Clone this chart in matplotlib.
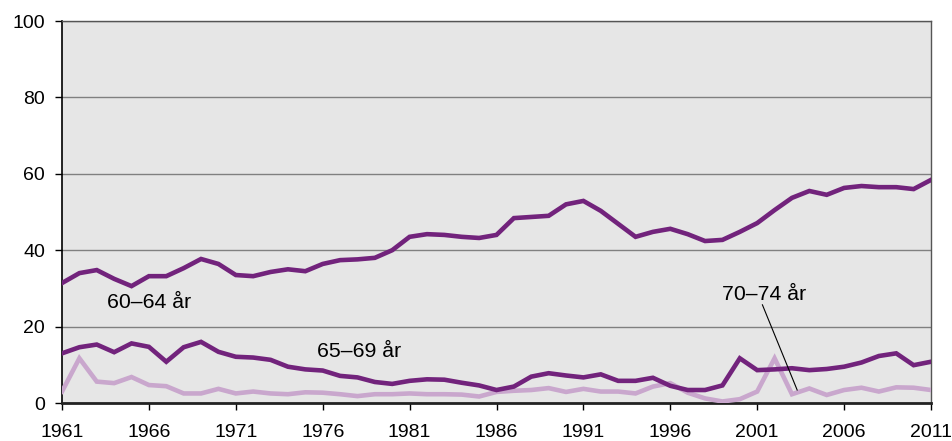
import matplotlib
matplotlib.use("Agg")
import matplotlib.pyplot as plt
import numpy as np

years = list(range(1961, 2012))
age_60_64 = [31.4, 34.0, 34.8, 32.5, 30.6, 33.2, 33.2, 35.3, 37.7, 36.4,
             33.5, 33.2, 34.3, 35.0, 34.5, 36.4, 37.4, 37.6, 38.0, 40.0,
             43.5, 44.2, 44.0, 43.5, 43.2, 44.0, 48.4, 48.7, 49.0, 52.0,
             52.9, 50.3, 46.9, 43.5, 44.8, 45.6, 44.2, 42.4, 42.7, 44.8,
             47.1, 50.5, 53.7, 55.5, 54.5, 56.3, 56.8, 56.5, 56.5, 56.0,
             58.4]
age_65_69 = [13.0, 14.6, 15.3, 13.3, 15.6, 14.7, 10.8, 14.6, 16.0, 13.4,
             12.1, 11.9, 11.3, 9.5, 8.8, 8.5, 7.1, 6.7, 5.5, 5.0,
             5.8, 6.2, 6.1, 5.3, 4.6, 3.4, 4.3, 6.9, 7.8, 7.2,
             6.7, 7.5, 5.8, 5.8, 6.6, 4.5, 3.4, 3.4, 4.6, 11.7,
             8.6, 8.8, 9.1, 8.6, 8.9, 9.5, 10.6, 12.3, 13.0, 9.9,
             10.8]
age_70_74 = [3.0, 11.7, 5.6, 5.2, 6.8, 4.7, 4.4, 2.5, 2.5, 3.7,
             2.5, 3.0, 2.5, 2.3, 2.8, 2.7, 2.3, 1.8, 2.3, 2.3,
             2.5, 2.3, 2.3, 2.2, 1.7, 2.9, 3.2, 3.4, 3.9, 2.9,
             3.7, 3.0, 3.0, 2.5, 4.3, 5.2, 2.7, 1.2, 0.4, 1.0,
             3.0, 11.7, 2.3, 3.8, 2.1, 3.4, 4.0, 3.0, 4.1, 4.0,
             3.4]
labels = ["60–64 år", "65–69 år", "70–74 år"]
xticks = list(range(1961, 2012, 5))
yticks = [0, 20, 40, 60, 80, 100]

plt.rcParams['font.family'] = ['Liberation Sans', 'DejaVu Sans']

fig = plt.figure(figsize=(9.53, 4.41), dpi=100)
ax = fig.add_axes([62/953, 1-403/441, (931-62)/953, (403-21)/441])
ax.set_facecolor('#e6e6e6')

dark = '#72237c'
light = '#c9a7cd'
ax.plot(years, age_70_74, color=light, lw=3.3, solid_joinstyle='miter', zorder=3)
ax.plot(years, age_65_69, color=dark, lw=3.3, solid_joinstyle='miter', zorder=4)
ax.plot(years, age_60_64, color=dark, lw=3.3, solid_joinstyle='miter', zorder=4)

ax.set_xlim(1961, 2011)
ax.set_ylim(0, 100)
ax.set_xticks(xticks)
ax.set_yticks(yticks)
ax.tick_params(axis='both', labelsize=14, direction='out', colors='black')
ax.tick_params(axis='x', length=5.2, width=1, pad=10)
ax.tick_params(axis='y', length=5.2, width=1, pad=7)
ax.grid(axis='y', color='#808080', lw=1)
ax.set_axisbelow(True)

for s in ['top', 'right']:
    ax.spines[s].set_color('#555555')
    ax.spines[s].set_linewidth(1)
ax.spines['left'].set_color('black')
ax.spines['left'].set_linewidth(1.2)
ax.spines['bottom'].set_color('#222222')
ax.spines['bottom'].set_linewidth(2)

ax.text(1963.6, 26.2, labels[0], fontsize=15.3, va='center', ha='left')
ax.text(1975.7, 13.4, labels[1], fontsize=15.3, va='center', ha='left')
ax.text(1999.0, 28.3, labels[2], fontsize=15.3, va='center', ha='left')
ax.plot([2001.3, 2003.3], [25.7, 3.4], color='black', lw=0.8, zorder=5)

fig.savefig('out.png', dpi=100)
